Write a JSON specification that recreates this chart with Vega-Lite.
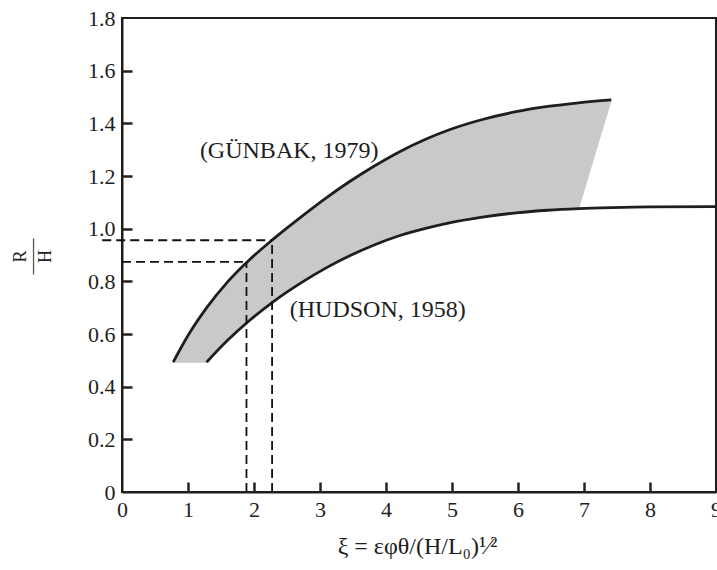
{
  "$schema": "https://vega.github.io/schema/vega-lite/v6.json",
  "width": 594,
  "height": 474,
  "autosize": {"type": "none"},
  "padding": {"left": 122, "top": 18, "right": 1, "bottom": 78},
  "background": "white",
  "config": {
    "view": {"stroke": "#1e1e1e", "strokeWidth": 2},
    "font": "Liberation Serif",
    "axis": {
      "labelFont": "Liberation Serif", "labelFontSize": 22, "labelColor": "#1e1e1e",
      "titleFont": "Liberation Serif", "titleFontWeight": "normal", "titleColor": "#1e1e1e",
      "domainColor": "#1e1e1e", "domainWidth": 2, "grid": false, "labelFlush": false
    }
  },
  "datasets": {
    "upper": [
      {"x": 0.776, "y": 0.493}, {"x": 1.0, "y": 0.594}, {"x": 1.281, "y": 0.699},
      {"x": 1.6, "y": 0.798}, {"x": 1.936, "y": 0.883}, {"x": 2.3, "y": 0.962},
      {"x": 2.7, "y": 1.042}, {"x": 3.1, "y": 1.118}, {"x": 3.45, "y": 1.179},
      {"x": 3.83, "y": 1.239}, {"x": 4.2, "y": 1.2915}, {"x": 4.6, "y": 1.3395},
      {"x": 4.96, "y": 1.3755}, {"x": 5.46, "y": 1.4145}, {"x": 5.97, "y": 1.444},
      {"x": 6.45, "y": 1.464}, {"x": 6.918, "y": 1.478}, {"x": 7.413, "y": 1.489}
    ],
    "lower": [
      {"x": 1.281, "y": 0.493}, {"x": 1.6, "y": 0.576}, {"x": 1.936, "y": 0.652},
      {"x": 2.3, "y": 0.724}, {"x": 2.7, "y": 0.792}, {"x": 3.1, "y": 0.852},
      {"x": 3.45, "y": 0.897}, {"x": 3.83, "y": 0.939}, {"x": 4.2, "y": 0.973},
      {"x": 4.6, "y": 1.001}, {"x": 4.96, "y": 1.022}, {"x": 5.46, "y": 1.044},
      {"x": 5.97, "y": 1.06}, {"x": 6.45, "y": 1.07}, {"x": 6.918, "y": 1.076},
      {"x": 7.413, "y": 1.08}, {"x": 8.0, "y": 1.083}, {"x": 9.0, "y": 1.084}
    ],
    "band": [
      {"x": 1.281, "y": 0.699, "y2": 0.493}, {"x": 1.6, "y": 0.798, "y2": 0.576},
      {"x": 1.936, "y": 0.883, "y2": 0.652}, {"x": 2.3, "y": 0.962, "y2": 0.724},
      {"x": 2.7, "y": 1.042, "y2": 0.792}, {"x": 3.1, "y": 1.118, "y2": 0.852},
      {"x": 3.45, "y": 1.179, "y2": 0.897}, {"x": 3.83, "y": 1.239, "y2": 0.939},
      {"x": 4.2, "y": 1.2915, "y2": 0.973}, {"x": 4.6, "y": 1.3395, "y2": 1.001},
      {"x": 4.96, "y": 1.3755, "y2": 1.022}, {"x": 5.46, "y": 1.4145, "y2": 1.044},
      {"x": 5.97, "y": 1.444, "y2": 1.06}, {"x": 6.45, "y": 1.464, "y2": 1.07},
      {"x": 6.918, "y": 1.478, "y2": 1.076}
    ],
    "leftcap": [
      {"x": 0.776, "y": 0.493, "y2": 0.493}, {"x": 1.0, "y": 0.594, "y2": 0.493},
      {"x": 1.281, "y": 0.699, "y2": 0.493}
    ],
    "rightcap": [
      {"x": 6.918, "y": 1.478, "y2": 1.076}, {"x": 7.413, "y": 1.489, "y2": 1.489}
    ],
    "dashes": [
      {"x": -0.3, "y": 0.956, "x2": 2.274, "y2": 0.956},
      {"x": 2.274, "y": 0, "x2": 2.274, "y2": 0.956},
      {"x": 0, "y": 0.874, "x2": 1.886, "y2": 0.874},
      {"x": 1.886, "y": 0, "x2": 1.886, "y2": 0.874}
    ],
    "labels": [
      {"x": 1.18, "y": 1.267, "label": "(GÜNBAK, 1979)"},
      {"x": 2.542, "y": 0.663, "label": "(HUDSON, 1958)"}
    ]
  },
  "resolve": {"axis": {"x": "independent", "y": "independent"}},
  "layer": [
    {
      "encoding": {
        "x": {
          "field": "x", "type": "quantitative",
          "scale": {"domain": [0, 9], "nice": false, "zero": false},
          "axis": {
            "title": "ξ = εφθ/(H/L₀)¹⁄²",
            "titleFontSize": 24, "titleX": 295, "titleY": 61, "titleBaseline": "alphabetic",
            "values": [0, 1, 2, 3, 4, 5, 6, 7, 8, 9], "format": "d",
            "ticks": false, "labelPadding": 7
          }
        },
        "y": {
          "field": "y", "type": "quantitative",
          "scale": {"domain": [0, 1.8], "nice": false, "zero": false},
          "axis": {
            "title": ["R", "——", "H"],
            "titleFontSize": 18, "titleAngle": -90, "titleX": -97, "titleY": 238,
            "titleAlign": "center", "titleBaseline": "alphabetic", "titleLineHeight": 12.5,
            "values": [0, 0.2, 0.4, 0.6, 0.8, 1.0, 1.2, 1.4, 1.6, 1.8],
            "labelExpr": "datum.value == 0 ? '0' : format(datum.value, '.1f')",
            "ticks": false, "labelPadding": 7
          }
        }
      },
      "layer": [
        {
          "data": {"name": "band"},
          "mark": {"type": "area", "interpolate": "monotone", "color": "#c9c9c9", "stroke": "#c9c9c9", "strokeWidth": 1},
          "encoding": {"y2": {"field": "y2"}}
        },
        {
          "data": {"name": "leftcap"},
          "mark": {"type": "area", "interpolate": "linear", "color": "#c9c9c9", "stroke": "#c9c9c9", "strokeWidth": 1},
          "encoding": {"y2": {"field": "y2"}}
        },
        {
          "data": {"name": "rightcap"},
          "mark": {"type": "area", "interpolate": "linear", "color": "#c9c9c9", "stroke": "#c9c9c9", "strokeWidth": 1},
          "encoding": {"y2": {"field": "y2"}}
        },
        {
          "data": {"name": "upper"},
          "mark": {"type": "line", "interpolate": "monotone", "color": "#1e1e1e", "strokeWidth": 2.8},
          "encoding": {}
        },
        {
          "data": {"name": "lower"},
          "mark": {"type": "line", "interpolate": "monotone", "color": "#1e1e1e", "strokeWidth": 2.8},
          "encoding": {}
        },
        {
          "data": {"name": "dashes"},
          "mark": {"type": "rule", "color": "#111111", "strokeWidth": 1.8, "strokeDash": [9, 5]},
          "encoding": {"x2": {"field": "x2"}, "y2": {"field": "y2"}}
        },
        {
          "data": {"name": "labels"},
          "mark": {"type": "text", "align": "left", "baseline": "alphabetic", "font": "Liberation Serif", "fontSize": 24, "color": "#1e1e1e"},
          "encoding": {"text": {"field": "label"}}
        }
      ]
    },
    {
      "data": {"name": "labels"},
      "mark": {"type": "point", "opacity": 0},
      "encoding": {
        "x": {
          "field": "x", "type": "quantitative",
          "scale": {"domain": [0, 9], "nice": false, "zero": false},
          "axis": {
            "orient": "top", "offset": -474, "title": null, "labels": false, "domain": false,
            "ticks": true, "tickSize": 10, "tickWidth": 2.5, "tickColor": "#2b1f1f", "tickOpacity": 1,
            "values": [1, 2, 3, 4, 5, 6, 7, 8], "zindex": 5
          }
        },
        "y": {
          "field": "y", "type": "quantitative",
          "scale": {"domain": [0, 1.8], "nice": false, "zero": false},
          "axis": {
            "orient": "right", "offset": -594, "title": null, "labels": false, "domain": false,
            "ticks": true, "tickSize": 10, "tickWidth": 2.5, "tickColor": "#2b1f1f", "tickOpacity": 1,
            "values": [0.2, 0.4, 0.6, 0.8, 1.0, 1.2, 1.4, 1.6], "zindex": 5
          }
        }
      }
    }
  ]
}
